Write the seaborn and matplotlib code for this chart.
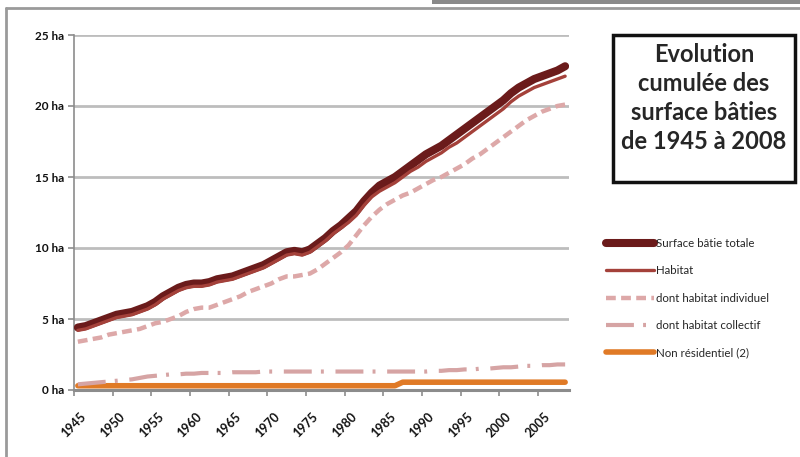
import matplotlib
matplotlib.use("Agg")
import matplotlib.pyplot as plt
from matplotlib.patches import Rectangle
from matplotlib.lines import Line2D
import numpy as np
import pandas as pd
import seaborn as sns

# ---- data (hectares, cumulated, 1945-2008) ----
years = list(range(1945, 2009))

surface_totale = [4.4, 4.5, 4.7, 4.9, 5.1, 5.3, 5.4, 5.5, 5.7, 5.9,
                  6.2, 6.6, 6.9, 7.2, 7.4, 7.5, 7.5, 7.6, 7.8, 7.9,
                  8.0, 8.2, 8.4, 8.6, 8.8, 9.1, 9.4, 9.7, 9.8, 9.7,
                  9.9, 10.3, 10.7, 11.2, 11.6, 12.1, 12.6, 13.3, 13.9, 14.4,
                  14.7, 15.0, 15.4, 15.8, 16.2, 16.6, 16.9, 17.2, 17.6, 18.0,
                  18.4, 18.8, 19.2, 19.6, 20.0, 20.4, 20.9, 21.3, 21.6, 21.9,
                  22.1, 22.3, 22.5, 22.8]

habitat = [4.2, 4.3, 4.5, 4.7, 4.9, 5.1, 5.2, 5.3, 5.5, 5.7,
           6.0, 6.4, 6.7, 7.0, 7.2, 7.3, 7.3, 7.4, 7.6, 7.7,
           7.8, 8.0, 8.2, 8.4, 8.6, 8.9, 9.2, 9.5, 9.6, 9.5,
           9.7, 10.1, 10.5, 11.0, 11.4, 11.8, 12.3, 13.0, 13.6, 14.0,
           14.3, 14.6, 15.0, 15.4, 15.7, 16.1, 16.4, 16.7, 17.1, 17.4,
           17.8, 18.2, 18.6, 19.0, 19.4, 19.8, 20.3, 20.7, 21.0, 21.3,
           21.5, 21.7, 21.9, 22.1]

habitat_individuel = [3.4, 3.5, 3.6, 3.7, 3.9, 4.0, 4.1, 4.2, 4.3, 4.5,
                      4.7, 4.8, 5.0, 5.2, 5.5, 5.7, 5.8, 5.8, 6.0, 6.2,
                      6.4, 6.6, 6.9, 7.1, 7.3, 7.5, 7.8, 8.0, 8.0, 8.1,
                      8.2, 8.5, 8.9, 9.3, 9.7, 10.2, 10.9, 11.6, 12.2, 12.7,
                      13.1, 13.4, 13.7, 13.9, 14.2, 14.5, 14.8, 15.0, 15.3, 15.6,
                      15.9, 16.3, 16.6, 17.0, 17.4, 17.8, 18.2, 18.6, 19.0, 19.3,
                      19.6, 19.8, 20.0, 20.1]

habitat_collectif = [0.40, 0.45, 0.50, 0.55, 0.60, 0.65, 0.70, 0.75, 0.85, 0.95,
                     1.00, 1.05, 1.10, 1.10, 1.15, 1.15, 1.20, 1.20, 1.20, 1.20,
                     1.25, 1.25, 1.25, 1.25, 1.30, 1.30, 1.30, 1.30, 1.30, 1.30,
                     1.30, 1.30, 1.30, 1.30, 1.30, 1.30, 1.30, 1.30, 1.30, 1.30,
                     1.30, 1.30, 1.30, 1.30, 1.30, 1.30, 1.35, 1.35, 1.40, 1.40,
                     1.45, 1.45, 1.50, 1.50, 1.55, 1.60, 1.60, 1.65, 1.70, 1.70,
                     1.75, 1.75, 1.80, 1.80]

non_residentiel = [0.30, 0.30, 0.30, 0.30, 0.30, 0.30, 0.30, 0.30, 0.30, 0.30,
                   0.30, 0.30, 0.30, 0.30, 0.30, 0.30, 0.30, 0.30, 0.30, 0.30,
                   0.30, 0.30, 0.30, 0.30, 0.30, 0.30, 0.30, 0.30, 0.30, 0.30,
                   0.30, 0.30, 0.30, 0.30, 0.30, 0.30, 0.30, 0.30, 0.30, 0.30,
                   0.30, 0.30, 0.55, 0.55, 0.55, 0.55, 0.55, 0.55, 0.55, 0.55,
                   0.55, 0.55, 0.55, 0.55, 0.55, 0.55, 0.55, 0.55, 0.55, 0.55,
                   0.55, 0.55, 0.55, 0.55]

series_labels = ["Surface bâtie totale", "Habitat", "dont habitat individuel",
                 "dont habitat collectif", "Non résidentiel (2)"]
y_ticks = [0, 5, 10, 15, 20, 25]
y_tick_labels = ["0 ha", "5 ha", "10 ha", "15 ha", "20 ha", "25 ha"]
x_tick_labels = [str(y) for y in range(1945, 2009, 5)]
title_text = "Evolution\ncumulée des\nsurface bâties\nde 1945 à 2008"

df = pd.DataFrame({
    "annee": years,
    series_labels[0]: surface_totale,
    series_labels[1]: habitat,
    series_labels[2]: habitat_individuel,
    series_labels[3]: habitat_collectif,
    series_labels[4]: non_residentiel,
})

# ---- styling ----
sns.set_style("white")
plt.rcParams["font.family"] = ["Lato", "DejaVu Sans"]

W, H = 800, 457
fig = plt.figure(figsize=(8, 4.57), dpi=100)

def fx(px):
    return px / W

def fy(py):
    return 1 - py / H

ax_left, ax_right, ax_top, ax_bottom = 74, 569, 35, 390
ax = fig.add_axes([fx(ax_left), fy(ax_bottom), (ax_right - ax_left) / W,
                   (ax_bottom - ax_top) / H])

styles = {
    series_labels[4]: dict(color="#E07A26", lw=4.0, ls="-", zorder=2),
    series_labels[3]: dict(color="#D6A4A4", lw=3.0, ls=(0, (6.7, 2.2, 0.7, 2.8)), zorder=3),
    series_labels[2]: dict(color="#DDA8A8", lw=3.2, ls=(0, (2.2, 1.2)), zorder=4),
    series_labels[0]: dict(color="#6B1B1B", lw=5.8, ls="-", zorder=5),
    series_labels[1]: dict(color="#A4413A", lw=2.4, ls="-", zorder=6),
}

for name in [series_labels[4], series_labels[3], series_labels[2],
             series_labels[0], series_labels[1]]:
    st = styles[name]
    sns.lineplot(data=df, x="annee", y=name, ax=ax, color=st["color"],
                 linewidth=st["lw"], linestyle=st["ls"], zorder=st["zorder"],
                 legend=False)

# axes, grid and ticks
ax.set_xlim(1944.5, 2008.5)
ax.set_ylim(0, 25)
ax.set_xlabel("")
ax.set_ylabel("")
ax.set_yticks(y_ticks)
ax.set_yticklabels(y_tick_labels)
ax.set_xticks([y - 0.5 for y in range(1945, 2009, 5)])
ax.set_xticklabels(x_tick_labels, rotation=45, ha="center", va="top")
ax.yaxis.grid(True, color="#BDBDBD", lw=2.0)
ax.xaxis.grid(False)
ax.set_axisbelow(True)
for side in ["top", "right"]:
    ax.spines[side].set_visible(False)
ax.spines["left"].set_color("#8C8C8C")
ax.spines["left"].set_linewidth(1.2)
ax.spines["bottom"].set_color("#8C8C8C")
ax.spines["bottom"].set_linewidth(2.2)
ax.tick_params(axis="x", which="major", direction="out", length=4, width=1.2,
               color="#8C8C8C", labelsize=9, pad=11, bottom=True)
ax.tick_params(axis="y", which="major", direction="out", length=4, width=1.2,
               color="#8C8C8C", labelsize=8.5, pad=3, left=True)
for lab in ax.get_xticklabels() + ax.get_yticklabels():
    lab.set_fontweight("bold")
    lab.set_color("#111111")

# legend
handles = [Line2D([0], [0], color=styles[n]["color"], lw=styles[n]["lw"],
                  ls=styles[n]["ls"]) for n in series_labels]
fig.legend(handles, series_labels, loc="upper left",
           bbox_to_anchor=(fx(606), fy(238)), frameon=False, fontsize=8.3,
           handlelength=4.2, handletextpad=0.1, labelspacing=1.42,
           borderpad=0, borderaxespad=0)

# title box
fig.patches.append(Rectangle((fx(613), fy(182)), (795 - 613) / W, (182 - 35) / H,
                             transform=fig.transFigure, fill=False,
                             edgecolor="#111111", lw=2.5))
fig.text(fx(704), fy(98), title_text, ha="center", va="center",
         fontsize=17, fontweight="bold", color="#262626", linespacing=1.33)

# outer frame
fig.add_artist(Line2D([fx(6), fx(800)], [fy(8), fy(8)], transform=fig.transFigure,
                      color="#9A9A9A", lw=2))
fig.add_artist(Line2D([fx(6), fx(6)], [fy(8), fy(457)], transform=fig.transFigure,
                      color="#9A9A9A", lw=2))
fig.patches.append(Rectangle((fx(432), fy(4)), (800 - 432) / W, 4 / H,
                             transform=fig.transFigure, facecolor="#8A8A8A",
                             edgecolor="none"))

fig.savefig("out.png", dpi=100)
